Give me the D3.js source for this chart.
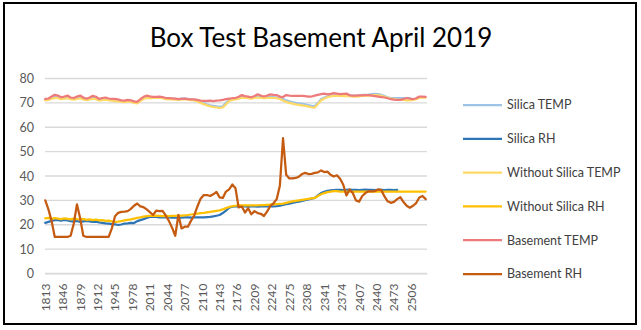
<!DOCTYPE html>
<html>
<head>
<meta charset="utf-8">
<script src="https://cdn.jsdelivr.net/npm/d3@7"></script>
<style>
  body { margin: 0; background: #fff; }
  svg { display: block; }
</style>
</head>
<body>
<svg id="chart" width="641" height="330"></svg>
<script>
// Reading numbers along the category axis
const firstReading = 1813;
const lastReading = 2535;
const sampleEvery = 6;     // one stored value per 6 readings
const labelEvery = 33;     // axis label spacing
const yTicks = [0, 10, 20, 30, 40, 50, 60, 70, 80];

const titleText = "Box Test Basement April 2019";
const seriesNames = ["Silica TEMP", "Silica RH", "Without Silica TEMP", "Without Silica RH", "Basement TEMP", "Basement RH"];

const silicaTemp = [
  71.2, 71.4, 72.0, 72.4, 72.3, 71.8, 72.0, 72.3, 71.8, 71.6,
  72.0, 72.3, 71.8, 71.4, 71.7, 72.2, 72.0, 71.3, 71.5, 71.7,
  71.5, 71.3, 71.3, 71.1, 70.8, 70.7, 70.9, 70.8, 70.4, 70.2,
  71.0, 71.9, 72.4, 72.3, 72.3, 72.4, 72.4, 72.2, 71.8, 71.7,
  71.6, 71.6, 71.5, 71.7, 71.8, 71.6, 71.4, 71.3, 71.0, 70.5,
  70.0, 69.4, 69.0, 68.8, 68.6, 68.4, 68.6, 70.0, 71.2, 71.5,
  71.7, 72.0, 72.5, 72.3, 72.2, 72.0, 72.3, 72.6, 72.4, 72.2,
  72.4, 72.6, 72.4, 72.3, 72.0, 71.6, 71.0, 70.6, 70.3, 70.0,
  69.8, 69.6, 69.4, 69.1, 68.8, 68.7, 70.0, 71.5, 72.2, 72.6,
  73.0, 73.2, 73.3, 73.3, 73.2, 73.3, 73.2, 72.9, 73.0, 73.1,
  73.3, 73.3, 73.4, 73.6, 73.7, 73.6, 73.3, 72.8, 72.3, 72.0,
  71.9, 71.9, 71.9, 71.9, 71.9, 71.9, null, null, null, null, null
];

const silicaRH = [
  20.8, 21.2, 21.6, 21.9, 21.9, 21.7, 22.0, 21.8, 21.5, 21.3,
  21.6, 21.2, 21.4, 21.6, 21.4, 21.2, 21.3, 21.0, 20.8, 20.6,
  20.5, 20.3, 20.2, 19.9, 20.1, 20.5, 20.6, 20.8, 20.7, 21.5,
  21.9, 22.3, 22.8, 23.2, 23.3, 23.2, 23.0, 23.0, 23.1, 23.0,
  22.9, 22.9, 22.9, 22.9, 23.0, 23.0, 22.9, 23.0, 23.0, 23.0,
  23.0, 23.1, 23.2, 23.4, 23.7, 24.0, 24.8, 25.8, 27.0, 27.4,
  27.5, 27.6, 27.5, 27.5, 27.4, 27.5, 27.5, 27.4, 27.5, 27.5,
  27.5, 27.5, 27.5, 27.6, 27.8, 28.1, 28.4, 28.7, 29.0, 29.3,
  29.5, 29.8, 30.1, 30.4, 30.7, 31.0, 32.0, 33.0, 33.5, 33.9,
  34.1, 34.2, 34.3, 34.3, 34.2, 34.3, 34.4, 34.3, 34.3, 34.2,
  34.3, 34.4, 34.3, 34.3, 34.2, 34.3, 34.3, 34.2, 34.3, 34.3,
  34.2, 34.3, null, null, null, null, null, null, null, null, null
];

const withoutTemp = [
  71.0, 71.2, 71.7, 72.0, 71.9, 71.5, 71.7, 71.9, 71.5, 71.3,
  71.6, 71.9, 71.4, 71.1, 71.4, 71.7, 71.5, 71.0, 71.1, 71.3,
  71.1, 70.9, 70.7, 70.6, 70.5, 70.3, 70.6, 70.5, 70.0, 69.8,
  70.8, 71.6, 72.0, 72.0, 72.0, 72.1, 72.1, 71.9, 71.5, 71.4,
  71.4, 71.3, 71.2, 71.4, 71.5, 71.3, 71.1, 71.0, 70.6, 70.0,
  69.5, 69.0, 68.6, 68.3, 68.1, 67.9, 68.1, 69.4, 70.8, 71.2,
  71.4, 71.7, 72.1, 72.0, 71.9, 71.7, 72.0, 72.2, 72.0, 71.9,
  72.0, 72.1, 72.0, 71.9, 71.6, 71.0, 70.4, 70.0, 69.7, 69.4,
  69.2, 69.0, 68.8, 68.5, 68.2, 68.1, 69.5, 71.0, 71.8, 72.3,
  72.7, 72.9, 73.0, 72.9, 72.8, 72.9, 72.8, 72.6, 72.6, 72.7,
  72.9, 72.9, 73.0, 73.1, 73.2, 73.1, 72.9, 72.5, 72.1, 71.8,
  71.5, 71.3, 71.2, 71.2, 71.0, 71.0, 71.2, 71.5, 72.0, 72.2, 72.2
];

const withoutRH = [
  22.6, 22.8, 22.4, 22.7, 22.5, 22.3, 22.6, 22.4, 22.2, 22.5,
  22.3, 22.2, 22.4, 22.0, 22.2, 21.9, 22.1, 21.8, 21.9, 21.6,
  21.7, 21.4, 21.2, 21.3, 21.5, 21.8, 22.0, 22.2, 22.5, 22.8,
  23.0, 23.3, 23.5, 23.6, 23.6, 23.7, 23.6, 23.5, 23.6, 23.5,
  23.6, 23.6, 23.7, 23.7, 23.8, 24.0, 24.2, 24.4, 24.6, 24.8,
  24.9, 25.1, 25.3, 25.5, 25.7, 25.9, 26.3, 26.8, 27.3, 27.6,
  27.8, 28.0, 28.0, 28.0, 28.0, 28.0, 28.0, 28.0, 28.1, 28.1,
  28.2, 28.3, 28.4, 28.5, 28.6, 28.7, 29.0, 29.3, 29.6, 29.8,
  30.0, 30.2, 30.4, 30.6, 30.8, 31.0, 31.8, 32.5, 33.0, 33.4,
  33.6, 33.8, 33.8, 33.6, 33.6, 33.6, 33.6, 33.6, 33.6, 33.6,
  33.6, 33.6, 33.6, 33.6, 33.6, 33.6, 33.6, 33.6, 33.6, 33.6,
  33.6, 33.6, 33.6, 33.6, 33.6, 33.6, 33.6, 33.6, 33.6, 33.6, 33.6
];

const basementTemp = [
  71.6, 71.8, 72.6, 73.3, 73.0, 72.3, 72.6, 73.0, 72.2, 72.0,
  72.6, 73.0, 72.2, 71.7, 72.2, 72.9, 72.5, 71.6, 72.0, 72.2,
  71.8, 71.6, 71.6, 71.4, 71.0, 70.9, 71.2, 71.0, 70.6, 70.4,
  71.5, 72.5, 73.0, 72.7, 72.5, 72.5, 72.6, 72.4, 72.0, 71.9,
  71.8, 71.7, 71.5, 71.6, 71.7, 71.5, 71.4, 71.4, 71.2, 70.9,
  70.8, 70.8, 70.9, 70.7, 70.9, 71.0, 71.2, 71.5, 71.7, 71.9,
  72.0, 72.5, 73.2, 72.8, 72.6, 72.3, 72.8, 73.5, 73.0, 72.6,
  73.0, 73.5, 73.3, 73.2, 72.6, 72.4, 73.2, 73.0, 72.9, 72.9,
  72.9, 72.9, 72.8, 72.6, 72.6, 73.0, 73.3, 73.6, 73.8, 73.5,
  73.7, 74.0, 73.8, 73.6, 73.7, 73.8, 73.1, 73.0, 73.0, 73.1,
  73.1, 73.2, 73.2, 73.0, 72.8, 72.6, 72.4, 72.2, 71.9, 71.5,
  71.3, 71.2, 71.2, 71.6, 72.0, 71.7, 71.5, 71.9, 72.6, 72.6, 72.5
];

const basementRH = [
  30.0, 26.3, 21.5, 15.0, 15.0, 15.0, 15.0, 15.0, 15.5, 20.5,
  28.4, 22.7, 15.5, 15.0, 15.0, 15.0, 15.0, 15.0, 15.0, 15.0,
  15.0, 18.5, 23.5, 24.9, 25.3, 25.4, 25.6, 26.5, 27.8, 28.7,
  27.5, 27.2, 26.3, 25.2, 24.0, 25.8, 25.6, 25.7, 23.8, 21.6,
  18.8, 15.5, 24.0, 18.5, 19.2, 19.2, 21.7, 23.8, 27.5, 30.7,
  32.2, 32.2, 31.8, 32.5, 33.5, 31.2, 31.0, 33.6, 34.5, 36.5,
  35.0, 27.1, 27.5, 25.0, 26.8, 24.3, 25.6, 24.8, 24.5, 23.6,
  25.5, 27.7, 28.8, 30.5, 36.0, 55.5, 40.5, 39.0, 39.0, 39.2,
  39.7, 40.8, 41.3, 40.8, 40.9, 41.3, 41.5, 42.3, 41.6, 41.8,
  40.5, 39.8, 40.3, 38.9, 36.4, 32.0, 34.5, 33.0, 30.0, 29.5,
  31.8, 33.0, 33.8, 33.7, 33.8, 34.5, 34.3, 31.6, 29.6, 29.0,
  29.4, 30.5, 31.3, 29.3, 27.8, 27.0, 27.8, 28.9, 31.2, 31.8, 30.5
];

const seriesColors = ["#9DC3E6", "#2E75B6", "#FFD966", "#FFC000", "#EE7B7B", "#C55A11"];

const seriesValues = [silicaTemp, silicaRH, withoutTemp, withoutRH, basementTemp, basementRH];

const svg = d3.select("#chart");
const fontFamily = "Lato, 'Liberation Sans', sans-serif";

// Chart frame
svg.append("rect")
  .attr("x", 4).attr("y", 3).attr("width", 632).attr("height", 321)
  .attr("fill", "#fff").attr("stroke", "#000").attr("stroke-width", 2);

// Title
svg.append("text")
  .attr("x", 321).attr("y", 47)
  .attr("text-anchor", "middle")
  .attr("font-family", fontFamily)
  .attr("font-size", 26)
  .attr("fill", "#000")
  .text(titleText);

const plot = { left: 45, right: 427, top: 78.5, bottom: 273.5 };

const categories = d3.range(firstReading, lastReading + 1);
const x = d3.scaleBand().domain(categories).range([plot.left, plot.right]).padding(0);
const xc = c => x(c) + x.bandwidth() / 2;
const y = d3.scaleLinear().domain([0, 80]).range([plot.bottom, plot.top]);

// Horizontal gridlines
svg.append("g")
  .selectAll("line")
  .data(yTicks)
  .join("line")
  .attr("x1", plot.left).attr("x2", plot.right)
  .attr("y1", d => y(d)).attr("y2", d => y(d))
  .attr("stroke", "#D9D9D9").attr("stroke-width", 1.3);

// Value axis labels
const yAxis = svg.append("g")
  .attr("transform", `translate(${plot.left - 11},0)`)
  .call(d3.axisLeft(y).tickValues(yTicks).tickSize(0).tickPadding(0));
yAxis.select(".domain").remove();
yAxis.selectAll("text")
  .attr("font-family", fontFamily).attr("font-size", 12.5).attr("fill", "#595959");

// Category axis labels, rotated
const labelCats = categories.filter((c, i) => i % labelEvery === 0);
const xAxis = svg.append("g")
  .attr("transform", `translate(0,${plot.bottom})`)
  .call(d3.axisBottom(x).tickValues(labelCats).tickSize(0).tickPadding(0));
xAxis.select(".domain").attr("stroke", "#D9D9D9");
xAxis.selectAll("text")
  .attr("font-family", fontFamily).attr("font-size", 12).attr("fill", "#595959")
  .attr("text-anchor", "end")
  .attr("dy", "0.35em")
  .attr("transform", "translate(0,10) rotate(-90)")
  .attr("x", 0).attr("y", 0);

// Series lines
const line = d3.line()
  .defined(d => d.v != null)
  .x(d => xc(d.c))
  .y(d => y(d.v));

seriesValues.forEach((vals, i) => {
  const pts = vals.map((v, k) => ({ c: firstReading + k * sampleEvery, v }));
  svg.append("path")
    .datum(pts)
    .attr("fill", "none")
    .attr("stroke", seriesColors[i])
    .attr("stroke-width", 2.25)
    .attr("stroke-linejoin", "round")
    .attr("stroke-linecap", "round")
    .attr("d", line);
});

// Legend
const legend = svg.append("g");
seriesNames.forEach((name, i) => {
  const ly = 105 + i * 33.8;
  legend.append("line")
    .attr("x1", 463).attr("x2", 502).attr("y1", ly).attr("y2", ly)
    .attr("stroke", seriesColors[i]).attr("stroke-width", 2.25);
  legend.append("text")
    .attr("x", 507).attr("y", ly)
    .attr("dy", "0.35em")
    .attr("font-family", fontFamily).attr("font-size", 12.5).attr("fill", "#404040")
    .text(name);
});
</script>
</body>
</html>
